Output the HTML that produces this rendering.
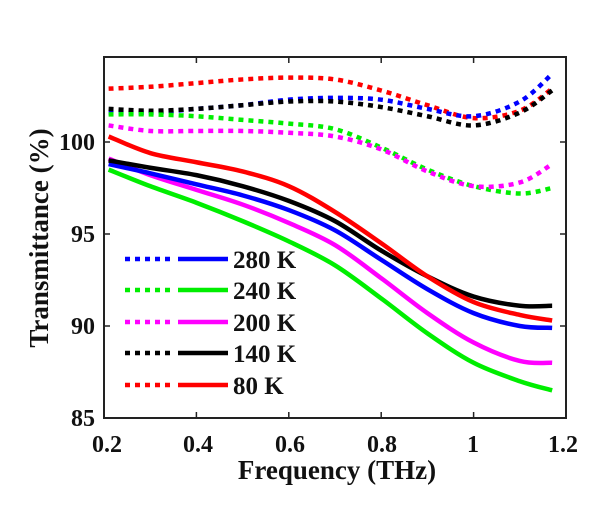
<!DOCTYPE html>
<html><head><meta charset="utf-8"><style>
body{margin:0;background:#fff;}
svg{display:block;font-family:"Liberation Serif",serif;font-weight:bold;}
</style></head><body>
<svg id="s" width="600" height="505" viewBox="0 0 600 505" xmlns="http://www.w3.org/2000/svg">
<rect x="104" y="57" width="462" height="361" fill="none" stroke="#222" stroke-width="2"/>
<g id="ticks" stroke="#222" stroke-width="1.5"></g>
<g id="curves" fill="none" stroke-width="4.5"></g>
<g font-size="24" fill="#111" text-anchor="end">
<text x="95" y="150">100</text><text x="95" y="242">95</text><text x="95" y="334">90</text><text x="95" y="426">85</text>
</g>
<g font-size="24" fill="#111" text-anchor="middle">
<text x="107" y="452">0.2</text><text x="198" y="452">0.4</text><text x="290" y="452">0.6</text><text x="382" y="452">0.8</text><text x="473" y="452">1</text><text x="563" y="452">1.2</text>
<text x="337" y="479" font-size="27">Frequency (THz)</text>
<text transform="translate(48,238) rotate(-90)" font-size="27">Transmittance (%)</text>
</g>
<g id="leg" stroke-width="4.5"></g>
<g font-size="25" fill="#111">
<text x="233" y="268">280 K</text><text x="233" y="299">240 K</text><text x="233" y="331">200 K</text><text x="233" y="362">140 K</text><text x="233" y="394">80 K</text>
</g>
</svg>
<script>
var X=function(f){return 104+(f-0.2)*462},Y=function(v){return 418-(v-85)*18.4};
var NS="http://www.w3.org/2000/svg";
function el(p,t,a){var e=document.createElementNS(NS,t);for(var k in a)e.setAttribute(k,a[k]);p.appendChild(e);return e;}
var tk=document.getElementById('ticks');
[0.4,0.6,0.8,1.0].forEach(function(f){el(tk,'line',{x1:X(f),x2:X(f),y1:418,y2:412});el(tk,'line',{x1:X(f),x2:X(f),y1:57,y2:63});});
[90,95,100].forEach(function(v){el(tk,'line',{x1:104,x2:110,y1:Y(v),y2:Y(v)});el(tk,'line',{x1:566,x2:560,y1:Y(v),y2:Y(v)});});
var xs=[0.21,0.3,0.4,0.5,0.6,0.7,0.8,0.9,1.0,1.1,1.17];
var data=[
['red',1,[102.9,103.0,103.2,103.4,103.5,103.4,102.8,102.0,101.3,101.7,102.9]],
['blue',1,[101.6,101.6,101.8,102.0,102.3,102.4,102.3,101.8,101.4,102.2,103.7]],
['black',1,[101.8,101.7,101.8,102.0,102.2,102.2,101.9,101.4,100.9,101.6,102.8]],
['#00ee00',1,[101.5,101.5,101.4,101.2,101.0,100.7,99.7,98.5,97.6,97.2,97.5]],
['magenta',1,[100.9,100.6,100.6,100.6,100.5,100.3,99.6,98.4,97.6,97.8,98.8]],
['#00ee00',0,[98.5,97.6,96.7,95.7,94.6,93.3,91.5,89.6,88.0,87.0,86.5]],
['magenta',0,[99.1,98.2,97.4,96.6,95.6,94.4,92.6,90.7,89.1,88.1,88.0]],
['blue',0,[98.8,98.3,97.7,97.1,96.3,95.2,93.6,92.0,90.7,90.0,89.9]],
['black',0,[99.0,98.6,98.2,97.6,96.8,95.7,94.1,92.7,91.6,91.1,91.1]],
['red',0,[100.3,99.4,98.9,98.4,97.6,96.2,94.5,92.7,91.3,90.6,90.3]]
];
var cg=document.getElementById('curves');
data.forEach(function(d){
 var p=xs.map(function(x,i){return [X(x),Y(d[2][i])]});
 var s='M'+p[0][0]+','+p[0][1];
 for(var i=0;i<p.length-1;i++){var p0=p[Math.max(0,i-1)],p1=p[i],p2=p[i+1],p3=p[Math.min(p.length-1,i+2)];
 s+=' C'+(p1[0]+(p2[0]-p0[0])/6)+','+(p1[1]+(p2[1]-p0[1])/6)+' '+(p2[0]-(p3[0]-p1[0])/6)+','+(p2[1]-(p3[1]-p1[1])/6)+' '+p2[0]+','+p2[1];}
 var a={d:s,stroke:d[0]};if(d[1])a['stroke-dasharray']='5 5';el(cg,'path',a);
});
var lg=document.getElementById('leg');
[['blue',259],['#00ee00',290],['magenta',322],['black',353],['red',385]].forEach(function(r){
 el(lg,'line',{x1:125,x2:170,y1:r[1],y2:r[1],stroke:r[0],'stroke-dasharray':'5 5'});
 el(lg,'line',{x1:178,x2:228,y1:r[1],y2:r[1],stroke:r[0]});
});
</script>
</body></html>
